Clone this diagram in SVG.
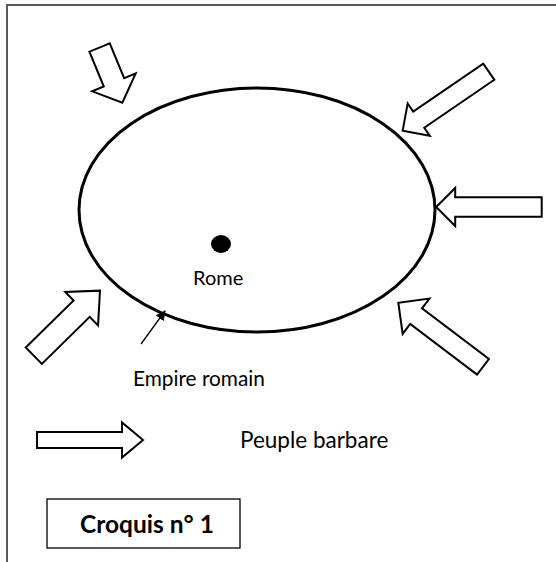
<svg xmlns="http://www.w3.org/2000/svg" width="556" height="562" viewBox="0 0 556 562">
<style>
.frame{stroke:#595959;stroke-width:2;fill:none}
.barb{fill:#fff;stroke:#000;stroke-width:2;stroke-linejoin:miter}
.t{font-family:Lato,"Open Sans","Liberation Sans",sans-serif;fill:#000}
</style>
<defs>
<marker id="ah" markerWidth="10" markerHeight="10" refX="9" refY="5" orient="auto" markerUnits="userSpaceOnUse" viewBox="0 0 10 10">
<path d="M0,0 L10,5 L0,10 z" fill="#000"/>
</marker>
</defs>
<g id="frame">
<line class="frame" x1="6" y1="5" x2="556" y2="5"/>
<line class="frame" x1="7" y1="4" x2="7" y2="562"/>
</g>
<g id="empire">
<ellipse cx="257" cy="210" rx="178" ry="122" fill="none" stroke="#000" stroke-width="3"/>
</g>
<g id="rome">
<ellipse cx="221" cy="244" rx="10" ry="9" fill="#000"/>
<text class="t" x="193" y="285" font-size="20">Rome</text>
</g>
<g id="arrow-top-left">
<path class="barb" transform="translate(99.6,47.5) rotate(67.6)" d="M0,-11 L37.7,-11 L37.7,-23.5 L59.7,0 L37.7,23.5 L37.7,11 L0,11 Z"/>
</g>
<g id="arrow-upper-right">
<path class="barb" transform="translate(488.8,71.7) rotate(145.6)" d="M0,-9.8 L84.9,-9.8 L84.9,-19.6 L104.4,0 L84.9,19.6 L84.9,9.8 L0,9.8 Z"/>
</g>
<g id="arrow-right">
<path class="barb" transform="translate(541.7,207) rotate(180)" d="M0,-9.7 L86.5,-9.7 L86.5,-19 L105.5,0 L86.5,19 L86.5,9.7 L0,9.7 Z"/>
</g>
<g id="arrow-lower-right">
<path class="barb" transform="translate(483,366.8) rotate(217.1)" d="M0,-9.8 L83.9,-9.8 L83.9,-22.2 L106.2,0 L83.9,22.2 L83.9,9.8 L0,9.8 Z"/>
</g>
<g id="arrow-lower-left">
<path class="barb" transform="translate(33.8,355.7) rotate(-44.5)" d="M0,-11.5 L67.1,-11.5 L67.1,-23.4 L92.8,0 L67.1,23.4 L67.1,11.5 L0,11.5 Z"/>
</g>
<g id="connectors">
<line x1="141" y1="344" x2="165" y2="311" stroke="#000" stroke-width="1.3" marker-end="url(#ah)"/>
</g>
<g id="label-empire">
<text class="t" x="133" y="386" font-size="20.8">Empire romain</text>
</g>
<g id="legend">
<path class="barb" transform="translate(37,440)" d="M0,-8 L85,-8 L85,-17.5 L106,0 L85,17.5 L85,8 L0,8 Z"/>
<text class="t" x="240" y="448" font-size="22.5">Peuple barbare</text>
</g>
<g id="title">
<rect x="47" y="499" width="193" height="49" fill="none" stroke="#000" stroke-width="1.3"/>
<text class="t" x="80" y="533" font-size="24.5" font-weight="bold">Croquis n° 1</text>
</g>
</svg>
